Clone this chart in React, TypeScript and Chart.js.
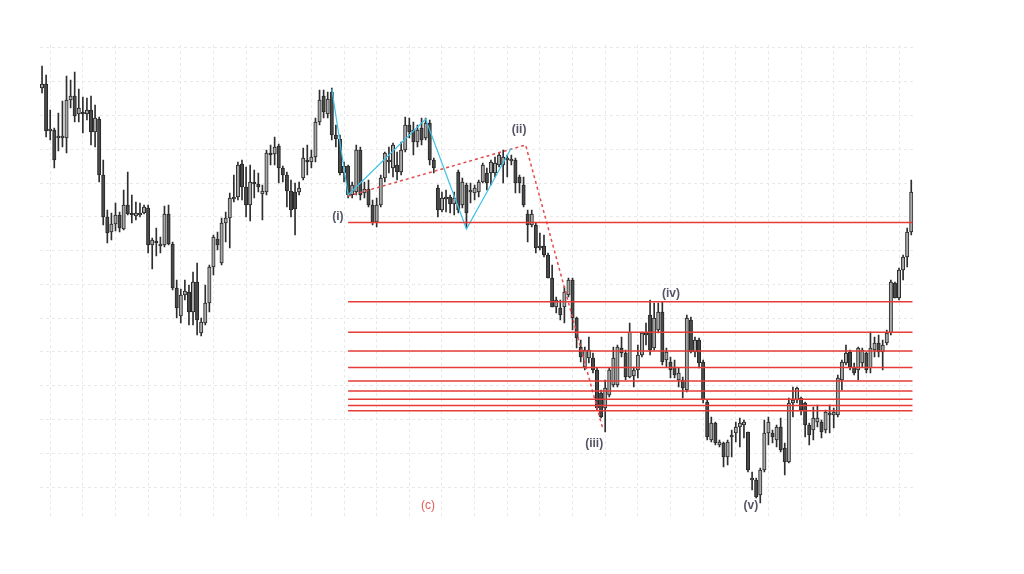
import React, { useEffect, useRef } from "react";
import { Chart, registerables } from "chart.js";

Chart.register(...registerables);

// Candle prices (one entry per bar, index = bar number)
const openP = [
  432, 436, 389, 390, 382, 382, 382, 420, 424, 406,
  407, 406, 410, 388, 401, 345, 303, 288, 296, 305,
  291, 315, 306, 304, 305, 307, 312, 275, 279, 274,
  275, 306, 276, 232, 204, 225, 228, 208, 238, 187,
  197, 217, 253, 281, 257, 297, 302, 321, 323, 356,
  333, 315, 338, 336, 326, 328, 367, 366, 374, 352,
  345, 329, 328, 328, 342, 360, 358, 363, 398, 424,
  406, 428, 385, 381, 347, 354, 325, 328, 370, 327,
  331, 315, 298, 315, 342, 358, 352, 355, 348, 370,
  395, 390, 378, 392, 382, 397, 360, 332, 310, 321,
  323, 316, 348, 315, 335, 328, 327, 328, 338, 347,
  347, 347, 355, 355, 360, 359, 360, 343, 335, 306,
  295, 295, 272, 274, 265, 242, 213, 212, 213, 225,
  240, 202, 173, 153, 162, 162, 150, 127, 112, 125,
  135, 135, 172, 167, 143, 144, 150, 165, 185, 205,
  172, 190, 208, 160, 158, 153, 140, 140, 130, 200,
  168, 180, 158, 118, 80, 97, 75, 77, 63, 83,
  87, 93, 95, 88, 40, 40, 25, 50, 87, 87,
  80, 93, 72, 58, 117, 120, 122, 117, 95, 90,
  98, 98, 90, 105, 105, 105, 140, 157, 168, 153,
  150, 157, 167, 152, 170, 177, 168, 177, 187, 237,
  222, 250, 263, 288,
];
const highP = [
  454, 445, 410, 392, 407, 419, 444, 440, 448, 431,
  423, 422, 424, 415, 403, 360, 310, 307, 317, 308,
  330, 348, 325, 318, 317, 315, 315, 282, 292, 283,
  314, 315, 278, 240, 231, 240, 235, 248, 257, 202,
  235, 255, 285, 288, 302, 308, 327, 345, 358, 360,
  353, 355, 350, 347, 335, 370, 375, 383, 376, 354,
  348, 340, 337, 338, 372, 375, 370, 402, 430, 430,
  428, 432, 395, 385, 358, 355, 338, 375, 373, 338,
  340, 320, 322, 345, 368, 373, 377, 368, 378, 403,
  402, 398, 395, 402, 402, 400, 362, 335, 328, 330,
  325, 328, 350, 342, 337, 337, 335, 340, 357, 352,
  360, 363, 367, 370, 365, 365, 362, 345, 343, 310,
  310, 297, 287, 285, 267, 255, 223, 220, 233, 242,
  242, 203, 180, 173, 183, 167, 152, 130, 140, 152,
  173, 175, 183, 170, 197, 153, 175, 188, 197, 220,
  217, 217, 218, 172, 163, 160, 152, 143, 205, 203,
  183, 182, 160, 120, 103, 98, 80, 78, 80, 90,
  98, 102, 100, 88, 48, 42, 52, 100, 103, 90,
  95, 102, 77, 122, 133, 133, 123, 118, 97, 113,
  115, 100, 110, 115, 112, 145, 160, 175, 170, 157,
  173, 172, 168, 188, 183, 185, 180, 190, 240, 238,
  252, 265, 292, 340,
];
const lowP = [
  427, 383, 380, 352, 369, 373, 367, 412, 398, 398,
  387, 400, 375, 373, 338, 295, 277, 280, 289, 288,
  290, 305, 297, 300, 303, 306, 267, 251, 264, 267,
  273, 275, 230, 202, 197, 220, 195, 195, 185, 184,
  195, 208, 245, 270, 255, 278, 272, 318, 320, 320,
  303, 299, 322, 328, 300, 325, 355, 355, 337, 338,
  313, 303, 285, 325, 340, 345, 352, 358, 395, 402,
  402, 380, 373, 345, 338, 322, 322, 325, 320, 322,
  313, 295, 293, 313, 338, 347, 343, 340, 345, 368,
  382, 365, 373, 375, 380, 355, 347, 303, 308, 308,
  307, 305, 307, 312, 292, 317, 320, 323, 337, 330,
  335, 343, 353, 337, 343, 355, 327, 327, 313, 278,
  293, 267, 270, 263, 242, 213, 207, 200, 197, 223,
  190, 172, 158, 150, 157, 147, 110, 102, 88, 123,
  133, 133, 163, 140, 142, 133, 142, 163, 175, 165,
  170, 187, 155, 153, 142, 142, 133, 122, 128, 167,
  163, 152, 117, 80, 78, 75, 73, 53, 55, 63,
  78, 73, 82, 48, 30, 22, 17, 48, 75, 77,
  73, 68, 45, 57, 103, 117, 105, 83, 75, 80,
  93, 82, 87, 87, 92, 103, 130, 155, 150, 145,
  140, 153, 147, 147, 163, 163, 150, 175, 185, 222,
  220, 240, 253, 285,
];
const closeP = [
  436, 389, 390, 360, 384, 383, 420, 424, 404, 412,
  406, 410, 388, 402, 345, 303, 287, 296, 305, 292,
  315, 306, 305, 307, 307, 313, 275, 280, 277, 276,
  306, 276, 232, 212, 225, 229, 208, 238, 200, 198,
  217, 253, 283, 275, 297, 302, 322, 323, 355, 333,
  315, 338, 336, 333, 329, 367, 365, 373, 352, 345,
  329, 310, 311, 332, 362, 358, 363, 398, 420, 408,
  421, 385, 381, 347, 354, 325, 335, 370, 325, 331,
  315, 298, 315, 342, 367, 360, 375, 348, 370, 395,
  388, 378, 390, 380, 397, 360, 352, 310, 322, 323,
  316, 322, 310, 338, 307, 330, 332, 338, 355, 337,
  358, 357, 365, 363, 361, 361, 337, 337, 315, 295,
  306, 272, 273, 265, 242, 213, 220, 205, 228, 240,
  202, 182, 163, 170, 170, 150, 112, 103, 132, 150,
  162, 173, 167, 143, 188, 150, 165, 187, 187, 170,
  202, 208, 158, 168, 150, 145, 147, 132, 202, 168,
  180, 157, 120, 83, 97, 77, 78, 63, 78, 85,
  93, 97, 98, 50, 42, 23, 50, 87, 98, 83,
  93, 70, 58, 117, 120, 132, 110, 95, 85, 102,
  102, 88, 108, 107, 108, 142, 158, 167, 153, 147,
  172, 170, 150, 172, 177, 168, 175, 187, 238, 222,
  250, 263, 288, 328,
];

// Horizontal levels (red)
const levelPrices = [297.5, 218.3, 187.7, 169, 152.5, 139, 129, 120.7, 114.5, 109.3];
const levelFrom = 75;
const levelTo = 213.3;

// Cyan zigzag
const zigzagIdx = [71, 75, 94, 104, 115];
const zigzagPrice = [431, 325, 401, 291, 372];

// Red dashed wave line
const waveIdx = [75, 118.5, 137.5];
const wavePrice = [324, 375, 90];

// Wave labels
const waveLabels = ["(i)", "(ii)", "(iii)", "(iv)", "(v)"];
const waveLabelIdx = [72.5, 116.9, 135.3, 154.1, 173.7];
const waveLabelPrice = [303, 390, 76, 226, 14];
const degreeLabel = "(c)";
const degreeLabelIdx = 94.6;
const degreeLabelPrice = 14;

// Grid positions
const xGridIdx = Array.from({ length: 27 }, (_, k) => 2 + 8 * k);
const yGridPrice = Array.from({ length: 14 }, (_, k) => 472 - 33.77 * k);

const labelPlugin = {
  id: "waveLabels",
  afterDatasetsDraw(chart: any) {
    const { ctx } = chart;
    const x = chart.scales.x;
    const y = chart.scales.y;
    ctx.save();
    ctx.textAlign = "center";
    ctx.textBaseline = "middle";
    ctx.font = 'bold 12px "Liberation Sans", Arial, sans-serif';
    ctx.fillStyle = "#555566";
    waveLabels.forEach((t, i) => {
      ctx.fillText(t, x.getPixelForValue(waveLabelIdx[i]), y.getPixelForValue(waveLabelPrice[i]));
    });
    ctx.font = '12px "Liberation Sans", Arial, sans-serif';
    ctx.fillStyle = "#e25a5a";
    ctx.fillText(degreeLabel, x.getPixelForValue(degreeLabelIdx), y.getPixelForValue(degreeLabelPrice));
    ctx.restore();
  },
};

export default function App() {
  const ref = useRef<HTMLCanvasElement | null>(null);

  useEffect(() => {
    if (!ref.current) return;
    const idx = openP.map((_, i) => i);
    const bodyColors = idx.map((i) => (closeP[i] >= openP[i] ? "#a8a8a8" : "#4a4a4a"));

    const lineBase = { type: "line" as const, pointRadius: 0, fill: false, tension: 0, order: 0 };

    const datasets: any[] = [
      ...levelPrices.map((p) => ({
        ...lineBase,
        data: [
          { x: levelFrom, y: p },
          { x: levelTo, y: p },
        ],
        borderColor: "#e63b36",
        borderWidth: 1.6,
      })),
      {
        ...lineBase,
        data: zigzagIdx.map((v, i) => ({ x: v, y: zigzagPrice[i] })),
        borderColor: "#3ec2e6",
        borderWidth: 1.2,
      },
      {
        ...lineBase,
        data: waveIdx.map((v, i) => ({ x: v, y: wavePrice[i] })),
        borderColor: "#e64a4a",
        borderDash: [3, 3],
        borderWidth: 1.5,
      },
      {
        type: "bar",
        data: idx.map((i) => ({ x: i, y: [openP[i], closeP[i]] })),
        backgroundColor: bodyColors,
        borderColor: "#262626",
        borderWidth: 1,
        borderSkipped: false,
        barThickness: 3.4,
        minBarLength: 2,
        grouped: false,
        order: 1,
      },
      {
        type: "bar",
        data: idx.map((i) => ({ x: i, y: [lowP[i], highP[i]] })),
        backgroundColor: "#2e2e2e",
        borderWidth: 0,
        barThickness: 1,
        grouped: false,
        order: 2,
      },
    ];

    const gridCommon = { color: "#e9e9e9", drawTicks: false, lineWidth: 1 };

    const chart = new Chart(ref.current, {
      type: "bar",
      data: { datasets },
      options: {
        responsive: true,
        maintainAspectRatio: false,
        animation: false,
        layout: { padding: { left: 40, top: 45, right: 110.7, bottom: 57 } },
        plugins: { legend: { display: false }, tooltip: { enabled: false } },
        scales: {
          x: {
            type: "linear",
            min: -0.5,
            max: 213.5,
            offset: false,
            ticks: { display: false },
            grid: { ...gridCommon, offset: false },
            border: { display: false, dash: [3, 3] },
            afterBuildTicks: (s: any) => {
              s.ticks = xGridIdx.map((v) => ({ value: v }));
            },
            afterFit: (s: any) => {
              s.height = 0;
            },
          },
          y: {
            type: "linear",
            min: 3,
            max: 475,
            ticks: { display: false },
            grid: gridCommon,
            border: { display: false, dash: [3, 3] },
            afterBuildTicks: (s: any) => {
              s.ticks = yGridPrice.map((v) => ({ value: v }));
            },
            afterFit: (s: any) => {
              s.width = 0;
            },
          },
        },
      } as any,
      plugins: [labelPlugin],
    });
    return () => chart.destroy();
  }, []);

  return (
    <div style={{ position: "fixed", left: 0, top: 0, width: 1024, height: 574, background: "#fff" }}>
      <canvas ref={ref} />
    </div>
  );
}
